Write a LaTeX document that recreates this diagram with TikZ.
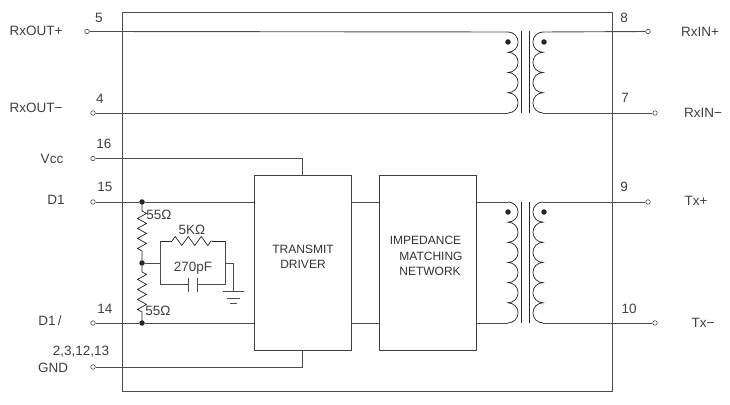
\documentclass[tikz,border=0pt]{standalone}
\usepackage{fontspec}
\setmainfont{Liberation Sans}
\usetikzlibrary{positioning, calc, decorations.pathmorphing}
\tikzset{
    wire/.style={draw=black!70, line width=0.9pt},
    thinwire/.style={draw=black!85, line width=0.7pt},
    pinhole/.style={circle, draw=black!70, line width=0.6pt, fill=white, inner sep=0pt, minimum size=4.5pt},
    junction/.style={circle, fill=black!85, inner sep=0pt, minimum size=5.5pt},
    label/.style={text=black!75, font=\fontsize{13.5}{15}\selectfont, inner sep=0pt},
    smalltext/.style={text=black!80, font=\fontsize{12}{15}\selectfont, inner sep=0pt},
    resistor/.style={thinwire, decorate, decoration={zigzag, segment length=10pt, amplitude=4.5pt, pre length=6pt, post length=6pt}},
    blockbox/.style={draw=black!75, line width=0.9pt, inner sep=0pt, minimum width=97pt, minimum height=175pt}
}
\begin{document}
\begin{tikzpicture}[x=1pt, y=1pt]
    \useasboundingbox (0,0) rectangle (730,404);
    \fill[white] (0,0) rectangle (730,404);

    % Outer package
    \draw[wire] (122,13) rectangle (612,392);

    % Left pins
    \foreach \name/\xpos/\ypos in {
        rxoutp/87/372.5, rxoutn/93/291, vcc/93/245.5, dp/93/202, dn/93/81, gnd/93/37
    } {
        \node[pinhole] (\name) at (\xpos,\ypos) {};
    }
    % Right pins
    \foreach \name/\xpos/\ypos in {
        rxinp/648/372.5, rxinn/655/291, txp/648/202, txn/655/81
    } {
        \node[pinhole] (\name) at (\xpos,\ypos) {};
    }

    % Blocks
    \node[blockbox] (driver) at (302.5,141.5) {};
    \node[blockbox] (network) at (428,141.5) {};
    \node[smalltext] (drivera) at (303,155) {TRANSMIT};
    \node[smalltext] (driverb) at (303,140) {DRIVER};
    \node[smalltext] (networka) at (425.5,164) {IMPEDANCE};
    \node[smalltext] (networkb) at (431,148) {MATCHING};
    \node[smalltext] (networkc) at (430,133) {NETWORK};

    % Transformer ends
    \coordinate (rxpa) at (508,372);
    \coordinate (rxpb) at (508,291);
    \coordinate (rxsa) at (543,372);
    \coordinate (rxsb) at (543,291);
    \coordinate (txpa) at (508,202);
    \coordinate (txpb) at (508,81);
    \coordinate (txsa) at (543,202);
    \coordinate (txsb) at (543,81);

    % Coils
    \draw[thinwire] (rxpa) \foreach \i in {1,...,4} {arc[start angle=90, end angle=-90, radius=10.125pt]};
    \draw[thinwire] (rxsa) \foreach \i in {1,...,4} {arc[start angle=90, end angle=270, radius=10.125pt]};
    \draw[thinwire] (txpa) \foreach \i in {1,...,6} {arc[start angle=90, end angle=-90, radius=10.08pt]};
    \draw[thinwire] (txsa) \foreach \i in {1,...,6} {arc[start angle=90, end angle=270, radius=10.08pt]};

    % Cores
    \foreach \xpos in {521,529} {
        \draw[thinwire] (\xpos,373) -- (\xpos,291);
        \draw[thinwire] (\xpos,202) -- (\xpos,81);
    }
    % Phase dots
    \foreach \name/\xpos/\ypos in {
        doa/508/362, dob/544/362, doc/508/192, dod/544/192
    } {
        \node[junction] (\name) at (\xpos,\ypos) {};
    }

    % Signal wires
    \draw[wire] (rxoutp) -- (rxpa);
    \draw[wire] (rxoutn) -- (rxpb);
    \draw[wire] (rxsa) -- (rxinp);
    \draw[wire] (rxsb) -- (rxinn);
    \draw[wire] (txsa) -- (txp);
    \draw[wire] (txsb) -- (txn);
    \draw[wire] (network.east |- txpa) -- (txpa);
    \draw[wire] (network.east |- txpb) -- (txpb);
    \draw[wire] (driver.east |- txpa) -- (network.west |- txpa);
    \draw[wire] (driver.east |- txpb) -- (network.west |- txpb);
    \draw[wire] (vcc) -| (driver.north);
    \draw[wire] (gnd) -| (driver.south);

    % Termination
    \node[junction] (jtop) at (142,202) {};
    \node[junction] (jmid) at (142,141) {};
    \node[junction] (jbot) at (142,81) {};
    \draw[wire] (dp) -- (jtop) -- (driver.west |- jtop);
    \draw[wire] (dn) -- (jbot) -- (driver.west |- jbot);
    \draw[resistor] (jtop) -- (jmid);
    \draw[resistor] (jmid) -- (jbot);

    % RC branch
    \coordinate (rcl) at (160.5,141);
    \coordinate (rcr) at (225,141);
    \coordinate (rctl) at (160.5,163);
    \coordinate (rctr) at (225,163);
    \coordinate (rcbl) at (160.5,120);
    \coordinate (rcbr) at (225,120);
    \coordinate (capa) at (188,120);
    \coordinate (capb) at (197,120);
    \coordinate (gndtop) at (233.5,141);
    \coordinate (gndbot) at (233.5,113);
    \draw[wire] (jmid) -- (rcl);
    \draw[wire] (rctl) -- (rcbl) -- (capa);
    \draw[wire] (capb) -- (rcbr) -- (rctr);
    \draw[thinwire] (rctl) -- (172,163);
    \draw[thinwire] (212,163) -- (rctr);
    \draw[resistor, decoration={pre length=0pt, post length=0pt, segment length=13pt}] (172,163) -- (212,163);
    \draw[wire] (capa) ++(0,6) -- ++(0,-14);
    \draw[wire] (capb) ++(0,6) -- ++(0,-14);
    \draw[wire] (rcr) -- (gndtop) -- (gndbot);
    \draw[wire] ($(gndbot)+(-10.5,0)$) -- ($(gndbot)+(10.5,0)$);
    \draw[wire] ($(gndbot)+(-6.5,-7)$) -- ($(gndbot)+(6.5,-7)$);
    \draw[wire] ($(gndbot)+(-3.5,-12)$) -- ($(gndbot)+(3.5,-12)$);

    % Pin names and numbers
    \foreach \txt/\xpos/\ypos in {
        RxOUT+/36/373, RxOUT−/36/296, Vcc/52/245, D1/56/204, {D1\,/}/50/83, GND/53/36,
        RxIN+/700/372, RxIN−/703/291, Tx+/696/203, Tx−/703/81,
        5/99/386, 4/100/305, 16/104/260, 15/105/217, 14/105/95, {2,3,12,13}/81/52,
        8/624/386, 7/625/306, 9/624/217, 10/629/95
    } {
        \node[label] at (\xpos,\ypos) {\txt};
    }
    \node[label] at (159,189) {55Ω};
    \node[label] at (158,93) {55Ω};
    \node[label] at (192,174) {5KΩ};
    \node[label] at (193,136) {270pF};
\end{tikzpicture}
\end{document}
